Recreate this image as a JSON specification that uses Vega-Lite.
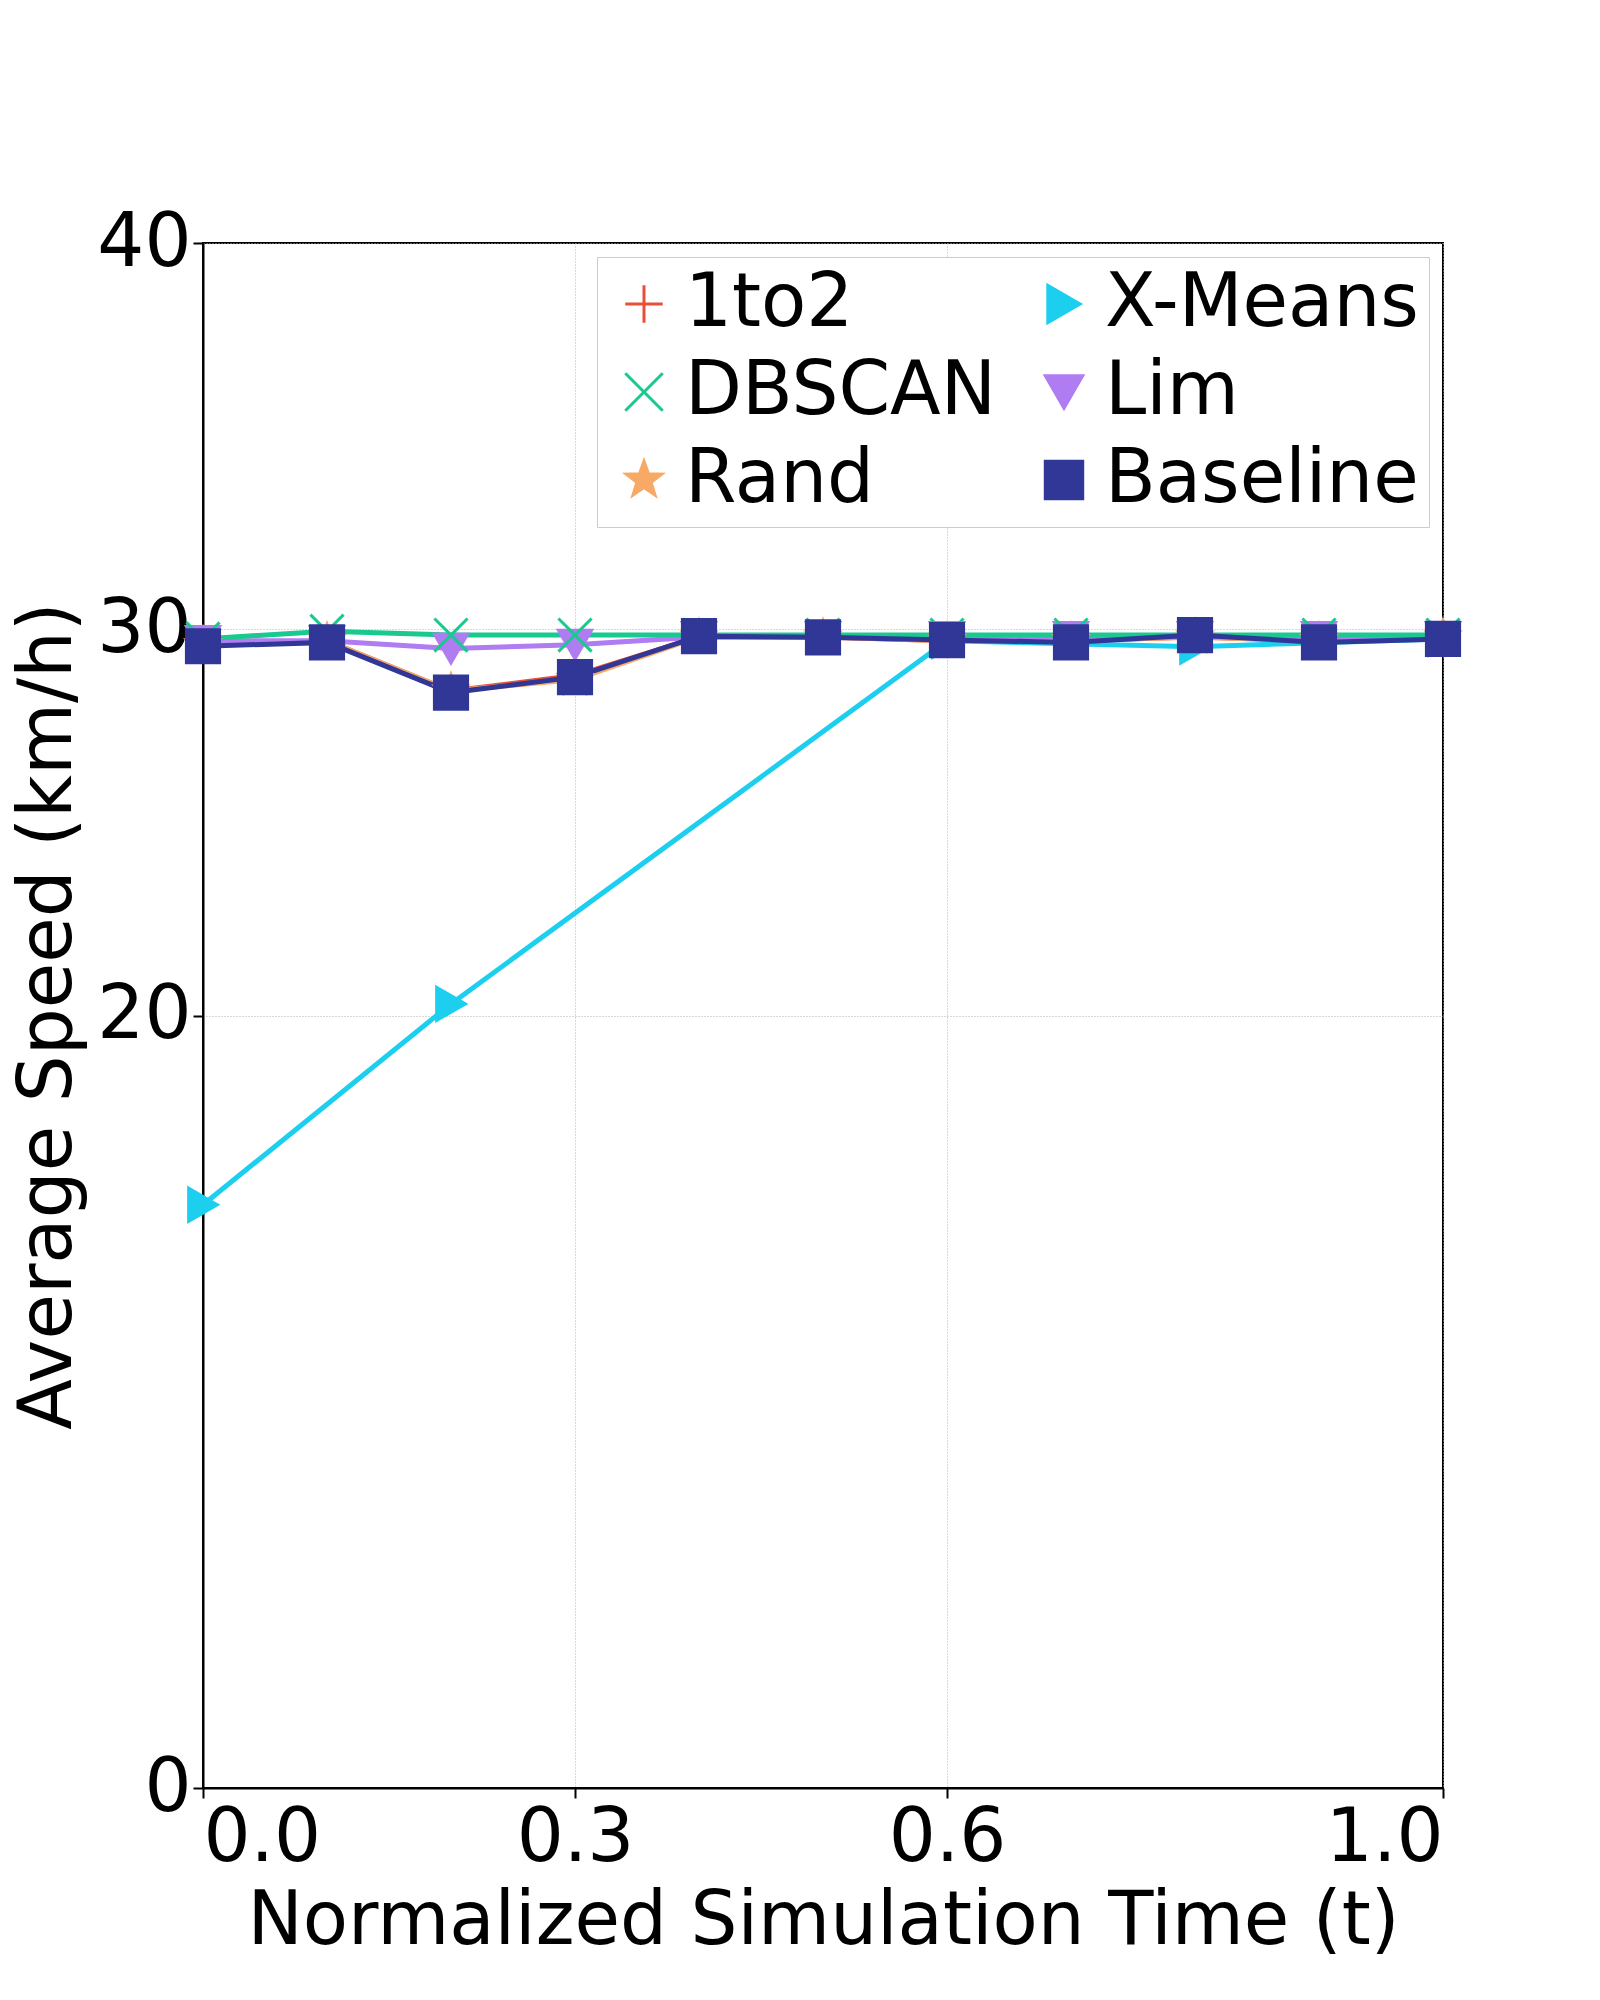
{
  "$schema": "https://vega.github.io/schema/vega-lite/v6.json",
  "width": 1240,
  "height": 1545,
  "autosize": "none",
  "padding": {"left": 203, "top": 243, "right": 157, "bottom": 212},
  "background": "white",
  "data": {
    "values": [
      {"t": 0.0, "m": "1to2", "v": 29.6}, {"t": 0.1, "m": "1to2", "v": 29.7}, {"t": 0.2, "m": "1to2", "v": 28.4}, {"t": 0.3, "m": "1to2", "v": 28.8}, {"t": 0.4, "m": "1to2", "v": 29.8}, {"t": 0.5, "m": "1to2", "v": 29.8}, {"t": 0.6, "m": "1to2", "v": 29.7}, {"t": 0.7, "m": "1to2", "v": 29.7}, {"t": 0.8, "m": "1to2", "v": 29.8}, {"t": 0.9, "m": "1to2", "v": 29.7}, {"t": 1.0, "m": "1to2", "v": 29.8},
      {"t": 0.0, "m": "Rand", "v": 29.6}, {"t": 0.1, "m": "Rand", "v": 29.7}, {"t": 0.2, "m": "Rand", "v": 28.4}, {"t": 0.3, "m": "Rand", "v": 28.7}, {"t": 0.4, "m": "Rand", "v": 29.8}, {"t": 0.5, "m": "Rand", "v": 29.8}, {"t": 0.6, "m": "Rand", "v": 29.7}, {"t": 0.7, "m": "Rand", "v": 29.7}, {"t": 0.8, "m": "Rand", "v": 29.8}, {"t": 0.9, "m": "Rand", "v": 29.7}, {"t": 1.0, "m": "Rand", "v": 29.8},
      {"t": 0.0, "m": "Lim", "v": 29.7}, {"t": 0.1, "m": "Lim", "v": 29.7}, {"t": 0.2, "m": "Lim", "v": 29.5}, {"t": 0.3, "m": "Lim", "v": 29.6}, {"t": 0.4, "m": "Lim", "v": 29.8}, {"t": 0.5, "m": "Lim", "v": 29.8}, {"t": 0.6, "m": "Lim", "v": 29.8}, {"t": 0.7, "m": "Lim", "v": 29.8}, {"t": 0.8, "m": "Lim", "v": 29.8}, {"t": 0.9, "m": "Lim", "v": 29.8}, {"t": 1.0, "m": "Lim", "v": 29.8},
      {"t": 0.0, "m": "DBSCAN", "v": 29.75}, {"t": 0.1, "m": "DBSCAN", "v": 29.95}, {"t": 0.2, "m": "DBSCAN", "v": 29.85}, {"t": 0.3, "m": "DBSCAN", "v": 29.85}, {"t": 0.4, "m": "DBSCAN", "v": 29.85}, {"t": 0.5, "m": "DBSCAN", "v": 29.85}, {"t": 0.6, "m": "DBSCAN", "v": 29.85}, {"t": 0.7, "m": "DBSCAN", "v": 29.85}, {"t": 0.8, "m": "DBSCAN", "v": 29.85}, {"t": 0.9, "m": "DBSCAN", "v": 29.85}, {"t": 1.0, "m": "DBSCAN", "v": 29.85},
      {"t": 0.0, "m": "X-Means", "v": 15.1}, {"t": 0.2, "m": "X-Means", "v": 20.3}, {"t": 0.6, "m": "X-Means", "v": 29.7}, {"t": 0.8, "m": "X-Means", "v": 29.55}, {"t": 1.0, "m": "X-Means", "v": 29.75},
      {"t": 0.0, "m": "Baseline", "v": 29.56}, {"t": 0.1, "m": "Baseline", "v": 29.66}, {"t": 0.2, "m": "Baseline", "v": 28.36}, {"t": 0.3, "m": "Baseline", "v": 28.76}, {"t": 0.4, "m": "Baseline", "v": 29.82}, {"t": 0.5, "m": "Baseline", "v": 29.79}, {"t": 0.6, "m": "Baseline", "v": 29.72}, {"t": 0.7, "m": "Baseline", "v": 29.66}, {"t": 0.8, "m": "Baseline", "v": 29.85}, {"t": 0.9, "m": "Baseline", "v": 29.66}, {"t": 1.0, "m": "Baseline", "v": 29.75}
    ]
  },
  "encoding": {
    "x": {
      "field": "t", "type": "quantitative",
      "scale": {"domain": [0, 1], "nice": false},
      "title": "Normalized Simulation Time (t)",
      "axis": {"values": [0, 0.3, 0.6, 1.0], "format": ".1f", "grid": true, "gridColor": "#b0b0b0", "gridDash": [1, 2], "gridWidth": 1}
    },
    "y": {
      "field": "v", "type": "quantitative",
      "scale": {"domain": [0, 40], "nice": false},
      "title": "Average Speed (km/h)",
      "axis": {"values": [0, 20, 30, 40], "grid": true, "gridColor": "#b0b0b0", "gridDash": [1, 2], "gridWidth": 1}
    },
    "color": {
      "field": "m", "type": "nominal",
      "scale": {
        "domain": ["1to2", "DBSCAN", "Rand", "X-Means", "Lim", "Baseline"],
        "range": ["#e8503a", "#19c98f", "#f8a965", "#1dcfef", "#b07cf2", "#303797"]
      },
      "legend": {
        "title": null, "orient": "top-right", "columns": 2, "offset": 14,
        "labelFontSize": 74, "labelFont": "DejaVu Sans", "symbolSize": 1400,
        "symbolStrokeWidth": 3, "rowPadding": 14, "columnPadding": 30,
        "strokeColor": "#cccccc", "fillColor": "white", "padding": 10, "labelLimit": 400
      }
    }
  },
  "layer": [
    {"mark": {"type": "line", "strokeWidth": 5}, "encoding": {"order": {"field": "t"}}},
    {
      "mark": {"type": "point", "filled": true, "strokeWidth": 3, "opacity": 1},
      "encoding": {
        "shape": {
          "field": "m", "type": "nominal",
          "scale": {
            "domain": ["1to2", "DBSCAN", "Rand", "X-Means", "Lim", "Baseline"],
            "range": ["M0,-1V1M-1,0H1", "M-1,-1L1,1M1,-1L-1,1", "M0,-1L0.24,-0.33L0.95,-0.31L0.38,0.12L0.59,0.81L0,0.4L-0.59,0.81L-0.38,0.12L-0.95,-0.31L-0.24,-0.33Z", "triangle-right", "triangle-down", "square"]
          },
          "legend": {
            "title": null, "orient": "top-right", "columns": 2, "offset": 14,
            "labelFontSize": 74, "labelFont": "DejaVu Sans", "symbolSize": 1400,
            "symbolStrokeWidth": 3, "rowPadding": 14, "columnPadding": 30,
            "strokeColor": "#cccccc", "fillColor": "white", "padding": 10, "labelLimit": 400
          }
        },
        "stroke": {"field": "m", "type": "nominal", "scale": {"domain": ["1to2", "DBSCAN", "Rand", "X-Means", "Lim", "Baseline"], "range": ["#e8503a", "#19c98f", "#f8a965", "#1dcfef", "#b07cf2", "#303797"]}},
        "size": {"value": 1100}
      }
    }
  ],
  "config": {
    "font": "DejaVu Sans",
    "view": {"stroke": "black", "strokeWidth": 2},
    "axis": {
      "labelFontSize": 74, "titleFontSize": 74, "labelColor": "black", "titleColor": "black",
      "titleFontWeight": "normal", "domainColor": "black", "tickColor": "black",
      "tickSize": 10, "tickWidth": 2, "labelPadding": 4, "domainWidth": 2
    },
    "axisX": {"titlePadding": 10},
    "axisY": {"titlePadding": 10, "labelPadding": 2}
  }
}
